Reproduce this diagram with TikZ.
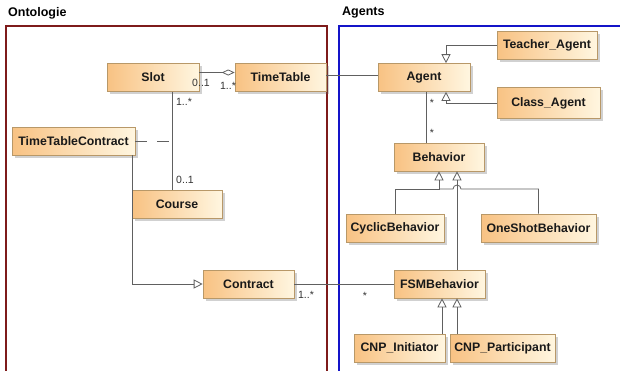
\documentclass[tikz,border=0pt]{standalone}
\usepackage{fontspec}
\setmainfont{Liberation Sans}
\usetikzlibrary{arrows.meta,shadows}
\definecolor{clsleft}{HTML}{F8C283}
\definecolor{clsright}{HTML}{FFF6E0}
\definecolor{clsborder}{HTML}{B89868}
\definecolor{ontored}{HTML}{7E1B1B}
\definecolor{agentblue}{HTML}{1414C8}
\definecolor{linegray}{HTML}{606060}
\begin{document}
\begin{tikzpicture}[x=1pt,y=-1pt,
  cls/.style={draw=clsborder, line width=0.6pt, left color=clsleft, right color=clsright,
    drop shadow={shadow xshift=2.5pt,shadow yshift=-2.5pt,opacity=0.3,fill=black!60},
    minimum height=28pt, inner sep=2pt, font=\bfseries\fontsize{12.3}{14}\selectfont, text=black!90},
  conn/.style={draw=linegray, line width=0.8pt},
  inh/.style={conn, -{Triangle[open,length=9pt,width=9pt]}},
  agg/.style={conn, -{Diamond[open,length=13pt,width=6pt]}},
  mult/.style={font=\fontsize{10.5}{12}\selectfont, text=black!80, inner sep=0pt},
  pkg/.style={line width=2pt},
  title/.style={font=\bfseries\fontsize{12.5}{14}\selectfont, anchor=west, inner sep=0pt}]
\useasboundingbox (0,0) rectangle (620,370);

\draw[pkg, ontored] (6,26) rectangle (327,373);
\draw[pkg, agentblue] (339,26) rectangle (624,373);
\node[title] (ontotitle) at (8,13) {Ontologie};
\node[title] (agenttitle) at (342,13) {Agents};

\node[cls, minimum width=92pt] (slot) at (153,77.5) {Slot};
\node[cls, minimum width=91pt] (timetable) at (280.5,77.5) {TimeTable};
\node[cls, minimum width=123pt] (ttc) at (73.5,141) {TimeTableContract};
\node[cls, minimum width=90pt] (course) at (177,204) {Course};
\node[cls, minimum width=91pt] (contract) at (248.5,284) {Contract};

\node[cls, minimum width=92pt] (agent) at (424,77.5) {Agent};
\node[cls, minimum width=100pt] (teacher) at (547,45) {Teacher\_Agent};
\node[cls, minimum width=103pt, minimum height=31pt] (classag) at (548.5,103) {Class\_Agent};
\node[cls, minimum width=90pt] (behavior) at (439,157) {Behavior};
\node[cls, minimum width=98pt] (cyclic) at (395,228) {CyclicBehavior};
\node[cls, minimum width=115pt] (oneshot) at (538.5,228) {OneShotBehavior};
\node[cls, minimum width=91pt] (fsm) at (439.5,284) {FSMBehavior};
\node[cls, minimum width=91pt] (init) at (399.5,348) {CNP\_Initiator};
\node[cls, minimum width=105pt] (part) at (502.5,348) {CNP\_Participant};

\coordinate (scx) at ([xshift=-5pt]course.north);
\coordinate (bhop) at (439,189);
\coordinate (hopl) at (453,189);

\draw[agg] ([yshift=5pt]slot.east) -- ([yshift=5pt]timetable.west);
\draw[conn] ([xshift=19pt]slot.south) -- (scx);
\draw[conn, dash pattern=on 12pt off 10pt] (ttc.east) -- (ttc.east -| scx);
\draw[inh] ([xshift=58.5pt]ttc.south) |- (contract.west);
\draw[conn] ([yshift=2.5pt]timetable.east) -- ([yshift=2.5pt]agent.west);
\draw[conn] (contract.east) -- (fsm.west);

\draw[inh] (teacher.west) -| ([xshift=22pt]agent.north);
\draw[inh] (classag.west) -| ([xshift=22pt]agent.south);
\draw[conn] ([xshift=2pt]agent.south) -- ([xshift=2pt]agent.south |- behavior.north);
\draw[inh] (cyclic.north) |- (bhop) -- (behavior.south);
\draw[conn] (bhop) -- (hopl) arc[start angle=180,end angle=0,radius=4pt] -| (oneshot.north);
\draw[inh] ([xshift=17.5pt]fsm.north) -- ([xshift=18pt]behavior.south);
\draw[inh] ([xshift=42.5pt]init.north) -- ([xshift=2.5pt]fsm.south);
\draw[inh] ([xshift=-45.5pt]part.north) -- ([xshift=17.5pt]fsm.south);

\node[mult] (m1) at (201,83) {0..1};
\node[mult] (m2) at (228,86) {1..*};
\node[mult] (m3) at (184,102) {1..*};
\node[mult] (m4) at (185,180) {0..1};
\node[mult] (m5) at (306,295) {1..*};
\node[mult] (m6) at (365,296) {*};
\node[mult] (m7) at (432,103) {*};
\node[mult] (m8) at (432,133) {*};
\end{tikzpicture}
\end{document}
